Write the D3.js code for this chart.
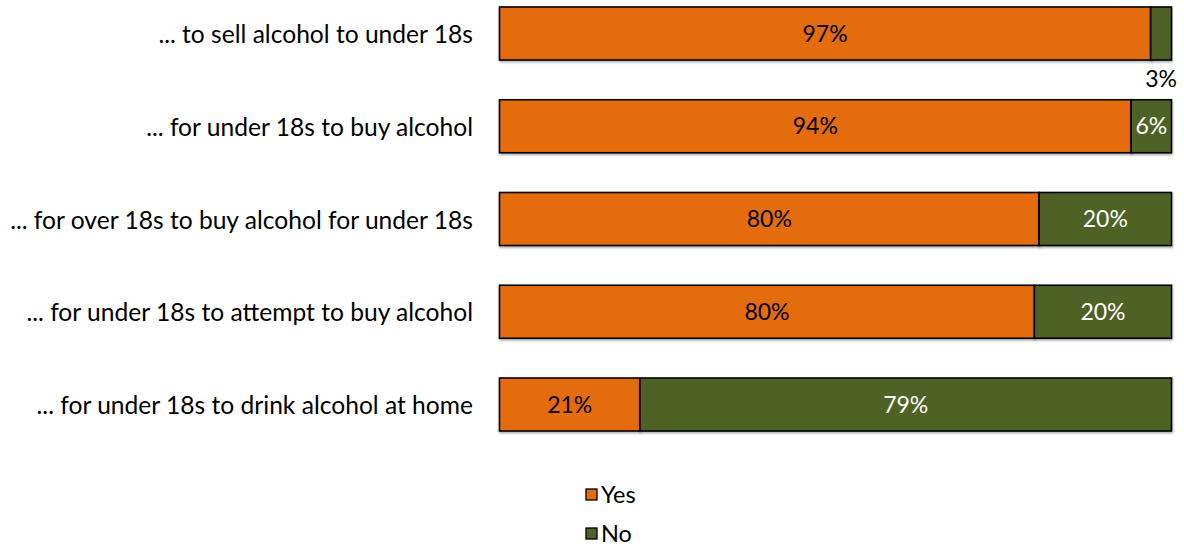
<!DOCTYPE html>
<html>
<head>
<meta charset="utf-8">
<script src="https://cdn.jsdelivr.net/npm/d3@7"></script>
<style>
  html, body { margin: 0; padding: 0; background: #fff; }
  svg { display: block; font-family: Lato, "Open Sans", sans-serif; }
</style>
</head>
<body>
<svg id="chart" width="1184" height="549"></svg>
<script>
// Survey statements: "Is it legal ..."
const categories = [
  "... to sell alcohol to under 18s",
  "... for under 18s to buy alcohol",
  "... for over 18s to buy alcohol for under 18s",
  "... for under 18s to attempt to buy alcohol",
  "... for under 18s to drink alcohol at home"
];
const yesValues = [96.9, 94.0, 80.3, 79.6, 20.9];
const noValues  = [3.1, 6.0, 19.7, 20.4, 79.1];
const seriesNames = ["Yes", "No"];
const seriesColors = ["#E46C0A", "#4F6228"];
const labelColors = ["#000000", "#ffffff"];

const svg = d3.select("#chart");

const x = d3.scaleLinear().domain([0, 100]).range([499.5, 1171.5]);
const y = d3.scaleBand().domain(categories).range([7, 431]).paddingInner(0.4286).paddingOuter(0);

// soft drop shadow under bars
const defs = svg.append("defs");
const f = defs.append("filter").attr("id", "shadow").attr("x", "-5%").attr("y", "-20%").attr("width", "110%").attr("height", "150%");
f.append("feDropShadow").attr("dx", 0.5).attr("dy", 1.5).attr("stdDeviation", 0.8).attr("flood-color", "#000").attr("flood-opacity", 0.35);

const rows = categories.map((c, i) => ({ cat: c, vals: [yesValues[i], noValues[i]] }));
const stack = rows.map(r => {
  let acc = 0;
  return r.vals.map((v, s) => { const d = { cat: r.cat, s, v, x0: acc, x1: acc + v }; acc += v; return d; });
});

// segments too thin to hold their label get it just below the bar
const outside = d => (x(d.x1) - x(d.x0)) < 30;

const g = svg.append("g");
stack.forEach(segs => {
  const row = g.append("g");
  row.selectAll("rect").data(segs).join("rect")
    .attr("x", d => x(d.x0))
    .attr("y", d => y(d.cat))
    .attr("width", d => x(d.x1) - x(d.x0))
    .attr("height", y.bandwidth())
    .attr("fill", d => seriesColors[d.s])
    .attr("stroke", "#000")
    .attr("stroke-width", 1.6)
    .attr("filter", "url(#shadow)");
  row.selectAll("text").data(segs).join("text")
    .attr("x", d => (x(d.x0) + x(d.x1)) / 2)
    .attr("y", d => outside(d) ? y(d.cat) + y.bandwidth() + 19 : y(d.cat) + y.bandwidth() / 2)
    .attr("dy", "0.35em")
    .attr("text-anchor", "middle")
    .attr("font-size", 23)
    .attr("fill", d => outside(d) ? "#000" : labelColors[d.s])
    .text(d => Math.round(d.v) + "%");
});

// category labels
svg.append("g").selectAll("text").data(categories).join("text")
  .attr("x", 473)
  .attr("y", d => y(d) + y.bandwidth() / 2 + 1)
  .attr("dy", "0.35em")
  .attr("text-anchor", "end")
  .attr("font-size", 24.6)
  .attr("fill", "#000")
  .text(d => d);

// legend
const legend = svg.append("g").attr("transform", "translate(586,489)");
const li = legend.selectAll("g").data(seriesNames).join("g")
  .attr("transform", (d, i) => `translate(0,${i * 39})`);
li.append("rect").attr("width", 11).attr("height", 11)
  .attr("fill", (d, i) => seriesColors[i]).attr("stroke", "#000").attr("stroke-width", 1.3);
li.append("text").attr("x", 15).attr("y", 6).attr("dy", "0.35em")
  .attr("font-size", 23.5).attr("fill", "#000").text(d => d);
</script>
</body>
</html>
